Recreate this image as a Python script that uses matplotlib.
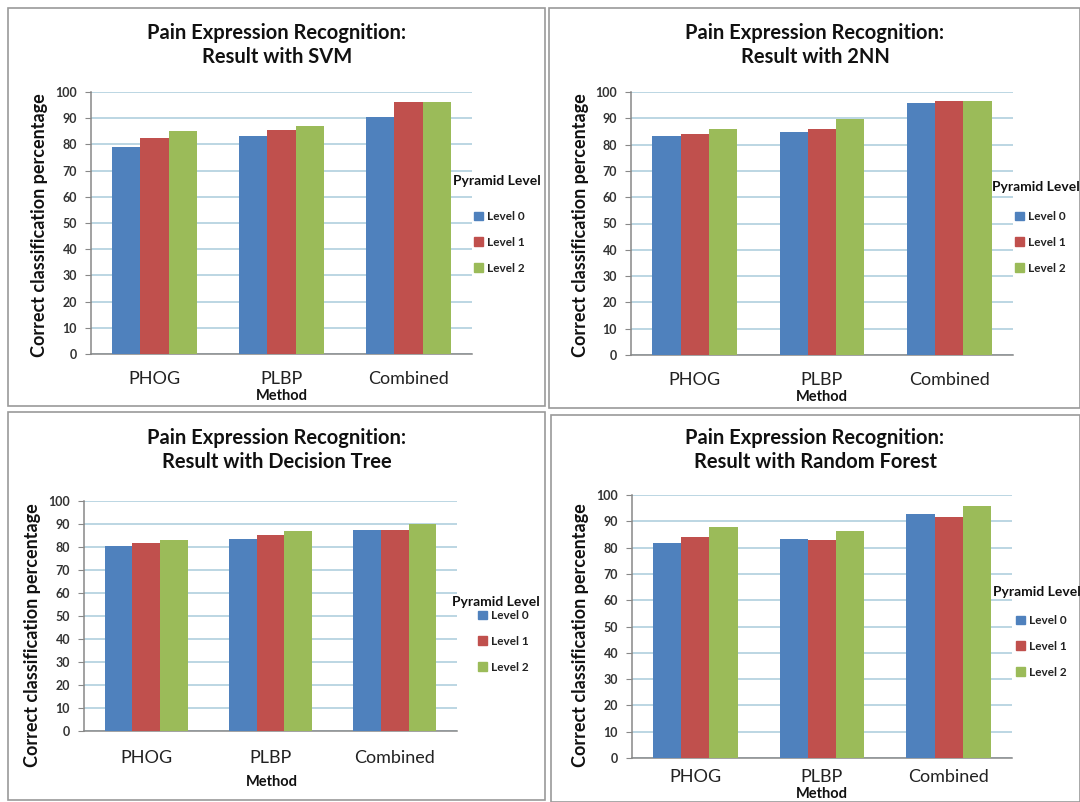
import matplotlib
matplotlib.use("Agg")
import matplotlib.pyplot as plt
from matplotlib.patches import Rectangle, Patch
import numpy as np

plt.rcParams['font.family'] = ['Lato', 'DejaVu Sans']

methods = ["PHOG", "PLBP", "Combined"]
levels = ["Level 0", "Level 1", "Level 2"]
colors = ["#4F81BD", "#C0504D", "#9BBB59"]
yticks = [0, 10, 20, 30, 40, 50, 60, 70, 80, 90, 100]

titles = ["Pain Expression Recognition:\nResult with SVM",
          "Pain Expression Recognition:\nResult with 2NN",
          "Pain Expression Recognition:\nResult with Decision Tree",
          "Pain Expression Recognition:\nResult with Random Forest"]

# values per classifier: rows = levels, columns = methods
svm = [[79.1, 83.1, 90.6],
       [82.6, 85.4, 96.2],
       [85.0, 87.1, 96.2]]
nn2 = [[83.2, 84.7, 95.8],
       [83.9, 85.8, 96.6],
       [85.8, 89.9, 96.6]]
dtree = [[80.5, 83.6, 87.3],
         [81.9, 85.1, 87.3],
         [83.2, 86.8, 89.9]]
rforest = [[81.6, 83.1, 92.6],
           [83.9, 82.8, 91.8],
           [87.8, 86.3, 95.8]]
all_values = [svm, nn2, dtree, rforest]

W, H = 1080, 802
fig = plt.figure(figsize=(W / 100, H / 100), dpi=100)

def fx(px):
    return px / W

def fy(py):
    return 1 - py / H

# layout in pixels
boxes = [(8, 8, 545, 406), (549, 8, 1080, 408), (8, 412, 545, 800), (551, 415, 1080, 802)]
axes_px = [(91, 92, 472, 354), (631, 92, 1013, 355), (84, 501, 457, 731), (632, 495, 1012, 758)]
title_xy = [(277, 45), (815, 45), (277, 450), (815, 450)]
ylabel_xy = [(40, 225), (580, 225), (33, 635), (580, 635)]
method_xy = [(282, 396), (822, 397), (272, 782), (822, 794)]
legtitle_xy = [(453, 181), (992, 187), (452, 602), (993, 592)]
legbox_xy = [(474, 211), (1015, 211), (478, 610), (1016, 615)]
cat_pad = [12.5, 12.5, 14, 8]

for (x0, y0, x1, y1) in boxes:
    fig.patches.append(Rectangle((fx(x0), fy(y1)), fx(x1 - x0), (y1 - y0) / H,
                                 transform=fig.transFigure, fill=False,
                                 edgecolor="#9a9a9a", linewidth=1.2))

x = np.arange(len(methods))
bw = 0.222
for i, vals in enumerate(all_values):
    l, t, r, b = axes_px[i]
    ax = fig.add_axes([fx(l), fy(b), fx(r - l), (b - t) / H])
    for j, lev in enumerate(levels):
        ax.bar(x + (j - 1) * bw, vals[j], width=bw, color=colors[j], label=lev, zorder=3)
    ax.set_xlim(-0.5, 2.5)
    ax.set_ylim(0, 100)
    ax.set_yticks(yticks)
    ax.set_yticklabels([str(v) for v in yticks], fontsize=9, fontweight="bold", color="#333333")
    ax.set_xticks(x)
    ax.set_xticklabels(methods, fontsize=13, color="#222222")
    ax.tick_params(axis="x", length=0, pad=cat_pad[i])
    ax.tick_params(axis="y", length=4, color="#888888", pad=6)
    ax.grid(axis="y", color="#a9cbdb", linewidth=1.1, zorder=0)
    ax.set_axisbelow(True)
    for s in ["top", "right"]:
        ax.spines[s].set_visible(False)
    for s in ["left", "bottom"]:
        ax.spines[s].set_color("#888888")
        ax.spines[s].set_linewidth(1.1)

    tx, ty = title_xy[i]
    fig.text(fx(tx), fy(ty), titles[i], ha="center", va="center", fontsize=14.5,
             fontweight="bold", linespacing=1.3, color="#111111")
    lx, ly = ylabel_xy[i]
    fig.text(fx(lx), fy(ly), "Correct classification percentage", rotation=90,
             ha="center", va="center", fontsize=13, fontweight="bold", color="#111111")
    mx, my = method_xy[i]
    fig.text(fx(mx), fy(my), "Method", ha="center", va="center", fontsize=10.5,
             fontweight="bold", color="#111111")
    gx, gy = legtitle_xy[i]
    fig.text(fx(gx), fy(gy), "Pyramid Level", ha="left", va="center", fontsize=10,
             fontweight="bold", color="#111111")
    bx, by = legbox_xy[i]
    handles = [Patch(color=c) for c in colors]
    leg = fig.legend(handles, levels, loc="upper left", bbox_to_anchor=(fx(bx), fy(by)),
                     frameon=False, fontsize=8.5, borderpad=0, borderaxespad=0,
                     handlelength=0.75, handleheight=0.75, handletextpad=0.35,
                     labelspacing=1.25)
    for txt in leg.get_texts():
        txt.set_fontweight("bold")
        txt.set_color("#222222")

fig.savefig("out.png", dpi=100, facecolor="white")
